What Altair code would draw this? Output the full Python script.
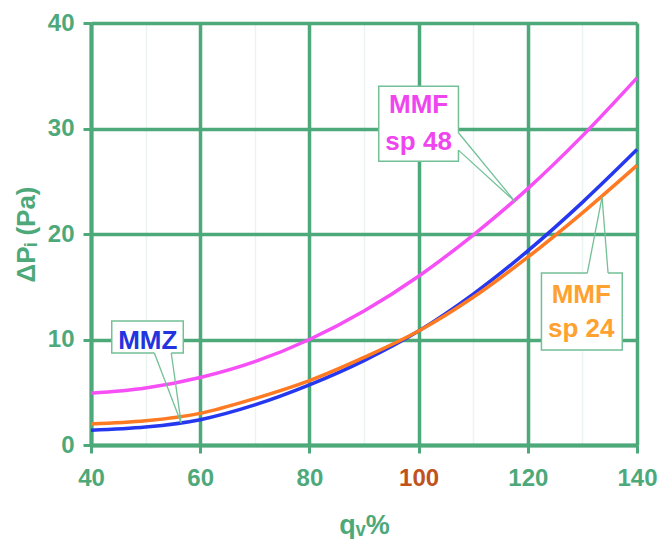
import altair as alt
import pandas as pd

# ---- data ----
q_values = [40, 50, 60, 70, 80, 90, 100, 110, 120, 130, 140]
mmf48 = [4.9, 5.4, 6.4, 7.9, 10.0, 12.7, 16.0, 19.9, 24.3, 29.3, 34.8]
mmz = [1.4, 1.7, 2.4, 3.8, 5.7, 8.0, 10.8, 14.3, 18.4, 23.0, 28.0]
mmf24 = [2.0, 2.3, 3.0, 4.4, 6.1, 8.3, 10.8, 14.0, 17.8, 22.0, 26.5]
series_names = ["MMF sp 48", "MMZ", "MMF sp 24"]
series_colors = ["#f64ff6", "#2638ef", "#ff7a22"]
x_ticks = [40, 50, 60, 70, 80, 90, 100, 110, 120, 130, 140]
y_ticks = [0, 10, 20, 30, 40]

# callout boxes (data units): x, x2, y, y2
box_x = [92.7, 43.8, 122.5]
box_x2 = [107.3, 56.9, 137.3]
box_y = [34.0, 11.75, 16.3]
box_y2 = [26.9, 8.72, 9.0]
# pointers: two base points and an apex
ptr_bx1 = [107.3, 51.6, 130.9]
ptr_by1 = [29.6, 8.72, 16.3]
ptr_bx2 = [107.3, 54.7, 134.7]
ptr_by2 = [27.95, 8.72, 16.3]
ptr_ax = [117.6, 56.5, 133.6]
ptr_ay = [23.1, 2.1, 23.5]
# callout texts
txt = ["MMF", "sp 48", "MMZ", "MMF", "sp 24"]
txt_x = [100.0, 100.0, 50.4, 129.8, 129.8]
txt_y = [31.5, 28.0, 9.1, 13.5, 10.25]
txt_col = ["#ef45ef", "#ef45ef", "#2233e0", "#ffa12e", "#ffa12e"]

GREEN = "#4ea97a"
FONT = "Liberation Sans"
XT = "qᵥ%"
YT = "ΔPᵢ (Pa)"

rows = []
for name, vals in zip(series_names, [mmf48, mmz, mmf24]):
    for qv, v in zip(q_values, vals):
        rows.append({"q": qv, "dp": v, "series": name})
curves_df = pd.DataFrame(rows)

xs = alt.Scale(domain=[40, 140], nice=False, zero=False)
ys = alt.Scale(domain=[0, 40], nice=False, zero=False)

curves = alt.Chart(curves_df).mark_line(strokeWidth=3.5, interpolate="monotone").encode(
    x=alt.X("q:Q", scale=xs, title=XT, axis=alt.Axis(
        values=x_ticks,
        grid=True,
        gridColor=alt.condition("datum.value % 20 == 0", alt.value(GREEN), alt.value("#ebf5f0")),
        gridWidth=alt.condition("datum.value % 20 == 0", alt.value(3.5), alt.value(1.5)),
        tickOpacity=alt.condition("datum.value % 20 == 0", alt.value(1), alt.value(0)),
        labelExpr="datum.value % 20 == 0 ? datum.label : ''",
        labelColor=alt.condition("datum.value == 100", alt.value("#c1521d"), alt.value(GREEN)),
        labelFlush=False,
        tickColor=GREEN, tickSize=8, tickWidth=3,
        domainColor=GREEN, domainWidth=4,
        labelFont=FONT, labelFontSize=24, labelFontWeight="bold", labelPadding=13,
        titleFont=FONT, titleFontSize=27, titleFontWeight="bold", titleColor=GREEN,
        titleBaseline="alphabetic", titleY=88,
    )),
    y=alt.Y("dp:Q", scale=ys, title=YT, axis=alt.Axis(
        values=y_ticks,
        grid=True, gridColor=GREEN, gridWidth=3.5,
        tickColor=GREEN, tickSize=8, tickWidth=3,
        domainColor=GREEN, domainWidth=4,
        labelColor=GREEN, labelFont=FONT, labelFontSize=24, labelFontWeight="bold",
        labelPadding=9, labelFlush=False,
        titleFont=FONT, titleFontSize=26, titleFontWeight="bold", titleColor=GREEN,
        titleX=-65, titleY=211, titleAngle=-90, titleBaseline="middle", titleAlign="center",
    )),
    color=alt.Color("series:N", scale=alt.Scale(domain=series_names, range=series_colors), legend=None),
)

box_df = pd.DataFrame({"x": box_x, "x2": box_x2, "y": box_y, "y2": box_y2})
boxes = alt.Chart(box_df).mark_rect(fill="white", stroke="#73c097", strokeWidth=1.5).encode(
    x=alt.X("x:Q", scale=xs, title=XT), x2="x2:Q",
    y=alt.Y("y:Q", scale=ys, title=YT), y2="y2:Q",
)

ptr_df = pd.DataFrame({"bx1": ptr_bx1, "by1": ptr_by1, "bx2": ptr_bx2, "by2": ptr_by2,
                       "ax": ptr_ax, "ay": ptr_ay})
gap = alt.Chart(ptr_df).mark_rule(stroke="white", strokeWidth=3).encode(
    x=alt.X("bx1:Q", scale=xs, title=XT), x2="bx2:Q",
    y=alt.Y("by1:Q", scale=ys, title=YT), y2="by2:Q",
)
ptr1 = alt.Chart(ptr_df).mark_rule(stroke="#73c097", strokeWidth=1.3).encode(
    x=alt.X("bx1:Q", scale=xs, title=XT), x2="ax:Q",
    y=alt.Y("by1:Q", scale=ys, title=YT), y2="ay:Q",
)
ptr2 = alt.Chart(ptr_df).mark_rule(stroke="#73c097", strokeWidth=1.3).encode(
    x=alt.X("bx2:Q", scale=xs, title=XT), x2="ax:Q",
    y=alt.Y("by2:Q", scale=ys, title=YT), y2="ay:Q",
)

txt_df = pd.DataFrame({"t": txt, "x": txt_x, "y": txt_y, "c": txt_col})
texts = alt.Chart(txt_df).mark_text(font=FONT, fontSize=26, fontWeight="bold",
                                    baseline="alphabetic", align="center").encode(
    x=alt.X("x:Q", scale=xs, title=XT),
    y=alt.Y("y:Q", scale=ys, title=YT),
    text="t:N",
    color=alt.Color("c:N", scale=None),
)

chart = alt.layer(curves, boxes, gap, ptr1, ptr2, texts).properties(
    width=546, height=422,
    autosize=alt.AutoSizeParams(type="none"),
    padding={"left": 83, "top": 15, "right": 21, "bottom": 94},
).configure_view(stroke=None).configure(background="white")

chart.save("out.html", embed_options={"renderer": "svg", "actions": False})
